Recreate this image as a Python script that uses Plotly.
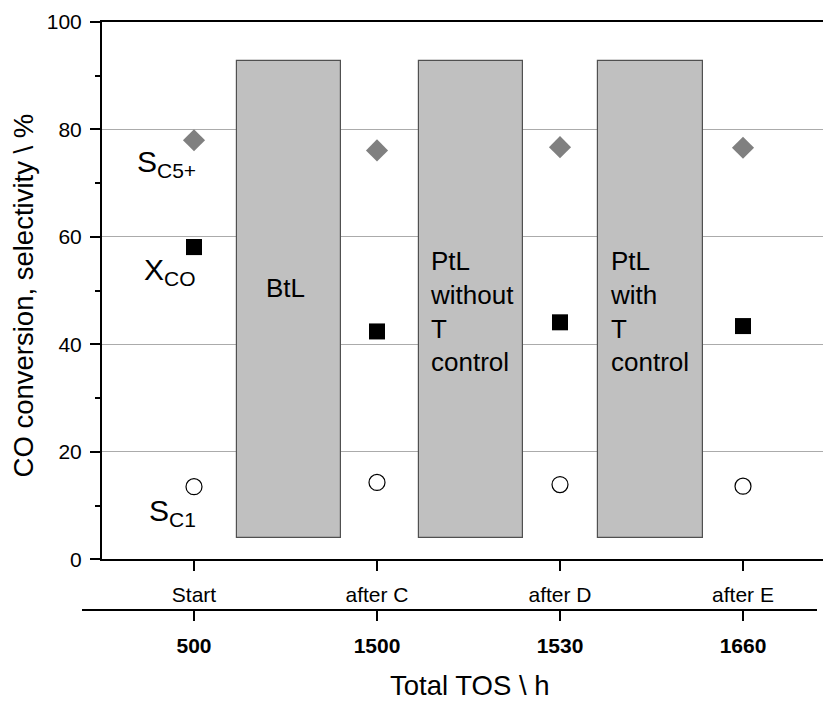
import plotly.graph_objects as go

# ---- data ----
stages = ["Start", "after C", "after D", "after E"]
tos_labels = ["500", "1500", "1530", "1660"]
stage_pos = [0, 1, 2, 3]
s_c5 = [78.0, 76.1, 76.7, 76.6]
x_co = [58.1, 42.4, 44.1, 43.4]
s_c1 = [13.5, 14.3, 13.9, 13.6]

box_labels = ["BtL", "PtL<br>without<br>T<br>control", "PtL<br>with<br>T<br>control"]
box_centers = [0.52, 1.515, 2.495]
box_bottom = [4.0, 4.0, 4.0]
box_top = [92.8, 92.8, 92.8]

FONT = "Liberation Sans, Arial, sans-serif"

fig = go.Figure()

fig.add_trace(go.Bar(
    x=box_centers, base=box_bottom,
    y=[t - b for t, b in zip(box_top, box_bottom)],
    width=0.57,
    marker=dict(color="#c0c0c0", line=dict(color="#505050", width=1.2)),
    hoverinfo="skip", showlegend=False,
))

fig.add_trace(go.Scatter(
    x=stage_pos, y=s_c5, mode="markers",
    marker=dict(symbol="diamond", size=17, color="#808080", line=dict(width=0)),
    showlegend=False,
))
fig.add_trace(go.Scatter(
    x=stage_pos, y=x_co, mode="markers",
    marker=dict(symbol="square", size=16, color="black", line=dict(width=0)),
    showlegend=False,
))
fig.add_trace(go.Scatter(
    x=stage_pos, y=s_c1, mode="markers",
    marker=dict(symbol="circle", size=16, color="white", line=dict(color="black", width=1.2)),
    showlegend=False,
))
# invisible trace that carries the second (Total TOS) x axis
fig.add_trace(go.Scatter(
    x=stage_pos, y=[0, 0, 0, 0], xaxis="x2", yaxis="y2", mode="markers",
    marker=dict(opacity=0), showlegend=False, hoverinfo="skip",
))

W, H = 823, 706
ML, MR, MT, MB = 82, 0, 22, 0
pw = W - ML - MR
ph = H - MT - MB

def px_to_xdata(px):
    return (px - 194) / 183.0

y_dom0 = (H - 568) / ph

fig.update_layout(
    width=W, height=H,
    margin=dict(l=ML, r=MR, t=MT, b=MB),
    paper_bgcolor="white", plot_bgcolor="rgba(0,0,0,0)",
    font=dict(family=FONT, color="black"),
    bargap=0,
    xaxis=dict(
        domain=[(102 - ML) / pw, 1.0],
        range=[px_to_xdata(102), px_to_xdata(823)],
        tickvals=stage_pos, ticktext=stages,
        ticks="outside", ticklen=10, tickwidth=2, tickcolor="black",
        showline=True, linewidth=2, linecolor="black", mirror=True,
        showgrid=False, zeroline=False,
        tickfont=dict(size=21, family=FONT),
        ticklabelstandoff=6,
        anchor="y",
    ),
    xaxis2=dict(
        domain=[0, (817 - ML) / pw],
        range=[px_to_xdata(82), px_to_xdata(817)],
        anchor="free", position=(H - 620) / ph,
        tickvals=stage_pos, ticktext=["<b>%s</b>" % t for t in tos_labels],
        ticks="outside", ticklen=10, tickwidth=2, tickcolor="black",
        showline=True, linewidth=2, linecolor="black",
        showgrid=False, zeroline=False,
        tickfont=dict(size=21, family=FONT),
        ticklabelstandoff=6,
    ),
    yaxis2=dict(
        domain=[(H - 620) / ph, (H - 600) / ph], anchor="x2",
        visible=False, showgrid=False, zeroline=False, range=[1, 2],
    ),
    yaxis=dict(
        domain=[y_dom0, 1.0],
        range=[0, 100],
        tickvals=[0, 20, 40, 60, 80, 100],
        ticks="outside", ticklen=10, tickwidth=2, tickcolor="black",
        showline=True, linewidth=2, linecolor="black",
        showgrid=True, gridcolor="#ababab", gridwidth=1.2,
        zeroline=False,
        tickfont=dict(size=21, family=FONT),
        ticklabelstandoff=4,
        minor=dict(tickvals=[10, 30, 50, 70, 90], ticks="outside", ticklen=5,
                   tickwidth=2, tickcolor="black", showgrid=False),
        anchor="x",
    ),
)

ann = []
# series labels
ann.append(dict(x=px_to_xdata(198), y=73.6, xref="x", yref="y", xanchor="right", yanchor="middle",
                text="S<sub>C5+</sub>", showarrow=False, font=dict(size=30, family=FONT)))
ann.append(dict(x=px_to_xdata(198), y=53.6, xref="x", yref="y", xanchor="right", yanchor="middle",
                text="X<sub>CO</sub>", showarrow=False, font=dict(size=30, family=FONT)))
ann.append(dict(x=px_to_xdata(198), y=8.7, xref="x", yref="y", xanchor="right", yanchor="middle",
                text="S<sub>C1</sub>", showarrow=False, font=dict(size=30, family=FONT)))
# box labels
ann.append(dict(x=0.50, y=50.4, xref="x", yref="y", xanchor="center", yanchor="middle",
                text=box_labels[0], showarrow=False, font=dict(size=26, family=FONT)))
ann.append(dict(x=px_to_xdata(428), y=46.2, xref="x", yref="y", xanchor="left", yanchor="middle",
                align="left", text=box_labels[1], showarrow=False, font=dict(size=26, family=FONT)))
ann.append(dict(x=px_to_xdata(608), y=46.2, xref="x", yref="y", xanchor="left", yanchor="middle",
                align="left", text=box_labels[2], showarrow=False, font=dict(size=26, family=FONT)))
# axis titles
ann.append(dict(x=(23 - ML) / pw, y=49.1, xref="paper", yref="y", xanchor="center", yanchor="middle",
                textangle=-90, text="CO conversion, selectivity \\ %", showarrow=False,
                font=dict(size=27.5, family=FONT)))
ann.append(dict(x=(470 - ML) / pw, y=(H - 696) / ph, xref="paper", yref="paper",
                xanchor="center", yanchor="middle",
                text="Total TOS \\ h", showarrow=False, font=dict(size=27.5, family=FONT)))
fig.update_layout(annotations=ann)

fig.write_html("out.html")
